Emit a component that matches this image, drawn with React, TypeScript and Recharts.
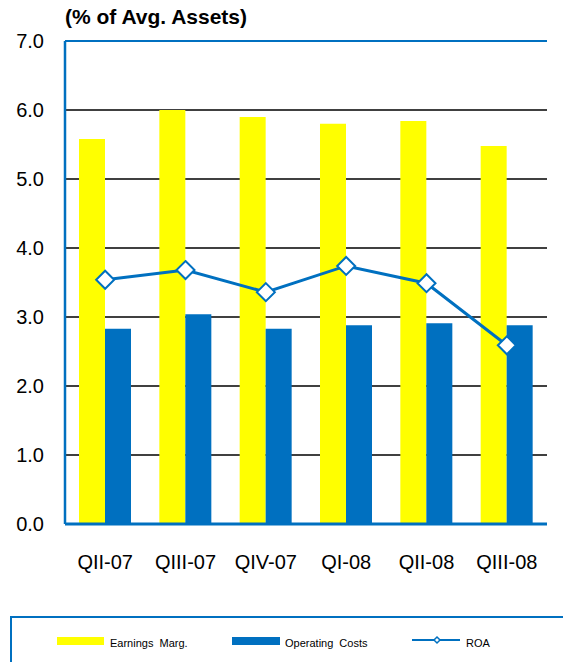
import React from "react";
import { ComposedChart, Bar, Line, XAxis, YAxis, CartesianGrid, ReferenceLine } from "recharts";

const categories = ["QII-07", "QIII-07", "QIV-07", "QI-08", "QII-08", "QIII-08"];
const earningsMarg = [5.58, 6.0, 5.9, 5.8, 5.84, 5.48];
const operatingCosts = [2.83, 3.04, 2.83, 2.88, 2.91, 2.88];
const roa = [3.54, 3.68, 3.36, 3.74, 3.49, 2.59];
const yTicks = [0, 1, 2, 3, 4, 5, 6, 7];

const data = categories.map((c, i) => ({
  name: c,
  earnings: earningsMarg[i],
  opcost: operatingCosts[i],
  roa: roa[i],
}));

const BLUE = "#0070C0";
const YELLOW = "#FFFF00";
const FONT = "'Liberation Sans', Arial, sans-serif";

const Diamond = (props: any) => {
  const { cx, cy } = props;
  if (cx == null || cy == null) return null;
  const r = 9;
  return (
    <path
      d={`M${cx},${cy - r} L${cx + r},${cy} L${cx},${cy + r} L${cx - r},${cy} Z`}
      fill="#fff"
      stroke={BLUE}
      strokeWidth={2}
    />
  );
};

export default function App() {
  return (
    <div style={{ position: "absolute", left: 0, top: 0, width: 563, height: 662, background: "#fff", overflow: "hidden", fontFamily: FONT }}>
      <div style={{ position: "absolute", left: 65, top: 5, fontSize: 21, fontWeight: "bold", color: "#000" }}>
        (% of Avg. Assets)
      </div>
      <ComposedChart
        width={563}
        height={662}
        data={data}
        margin={{ top: 41, right: 16, left: 0, bottom: 0 }}
        barCategoryGap={14}
        barGap={0}
      >
        <CartesianGrid yAxisId="l" horizontal vertical={false} stroke="#000" strokeWidth={1.5} />
        <XAxis
          dataKey="name"
          height={138}
          axisLine={{ stroke: BLUE, strokeWidth: 3 }}
          tickLine={false}
          tickSize={0}
          tickMargin={31}
          tick={{ fill: "#000", fontSize: 20, fontFamily: FONT }}
          interval={0}
        />
        <YAxis
          yAxisId="l"
          width={65}
          domain={[0, 7]}
          ticks={yTicks}
          tickFormatter={(v: number) => v.toFixed(1)}
          axisLine={{ stroke: BLUE, strokeWidth: 2.5 }}
          tickLine={false}
          tickSize={0}
          tickMargin={21}
          tick={{ fill: "#000", fontSize: 20, fontFamily: FONT }}
        />
        <YAxis
          yAxisId="r"
          orientation="right"
          width={0}
          domain={[0, 7]}
          ticks={yTicks}
          axisLine={{ stroke: BLUE, strokeWidth: 2 }}
          tickLine={false}
          tick={false}
        />
        <ReferenceLine yAxisId="l" y={7} stroke={BLUE} strokeWidth={2} />
        <Bar yAxisId="l" dataKey="earnings" fill={YELLOW} barSize={26} isAnimationActive={false} />
        <Bar yAxisId="l" dataKey="opcost" fill={BLUE} barSize={26} isAnimationActive={false} />
        <Line
          yAxisId="l"
          dataKey="roa"
          stroke={BLUE}
          strokeWidth={3}
          dot={<Diamond />}
          activeDot={false}
          isAnimationActive={false}
        />
      </ComposedChart>
      <div
        style={{
          position: "absolute",
          left: 10,
          top: 616,
          width: 600,
          height: 80,
          border: `2px solid ${BLUE}`,
          boxSizing: "border-box",
        }}
      />
      <svg style={{ position: "absolute", left: 0, top: 600 }} width={563} height={62}>
        <rect x={57} y={37} width={47} height={8} fill={YELLOW} />
        <text x={110} y={47} fontSize={11} fontFamily={FONT} fill="#000" wordSpacing={3}>Earnings Marg.</text>
        <rect x={232} y={37} width={48} height={8} fill={BLUE} />
        <text x={285} y={47} fontSize={11} fontFamily={FONT} fill="#000" wordSpacing={3}>Operating Costs</text>
        <line x1={412} y1={40} x2={460} y2={40} stroke={BLUE} strokeWidth={2} />
        <path d="M437,37 L440,40 L437,43 L434,40 Z" fill="#fff" stroke={BLUE} strokeWidth={1.5} />
        <text x={466} y={47} fontSize={11} fontFamily={FONT} fill="#000">ROA</text>
      </svg>
    </div>
  );
}
